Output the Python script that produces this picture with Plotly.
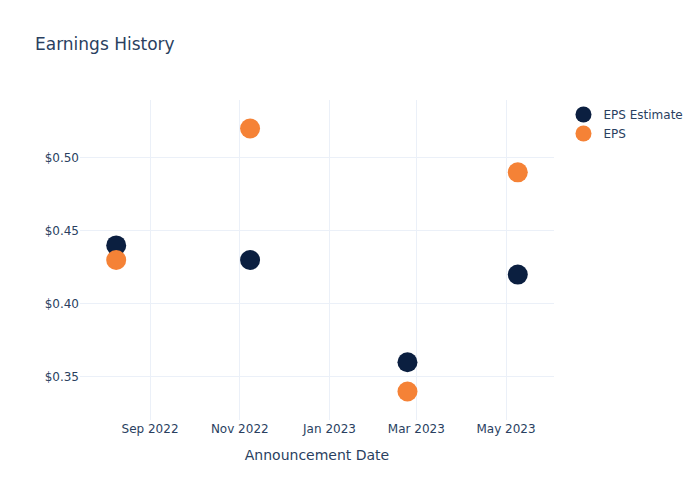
import plotly.graph_objects as go

dates = ["2022-08-09", "2022-11-08", "2023-02-23", "2023-05-09"]
eps_estimate = [0.44, 0.43, 0.36, 0.42]
eps_actual = [0.43, 0.52, 0.34, 0.49]

fig = go.Figure()
fig.add_trace(go.Scatter(x=dates, y=eps_estimate, mode="markers", name="EPS Estimate",
                         marker=dict(color="#0b1f40", size=20)))
fig.add_trace(go.Scatter(x=dates, y=eps_actual, mode="markers", name="EPS",
                         marker=dict(color="#f58236", size=20)))
fig.update_layout(
    template="plotly_white",
    width=700, height=500,
    font=dict(family="DejaVu Sans"),
    title=dict(text="Earnings History"),
    xaxis=dict(title=dict(text="Announcement Date")),
    yaxis=dict(tickprefix="$", tickformat=".2f"),
)
fig.write_html("out.html", config={"displayModeBar": False},
               post_script="document.body.style.margin='0';")
